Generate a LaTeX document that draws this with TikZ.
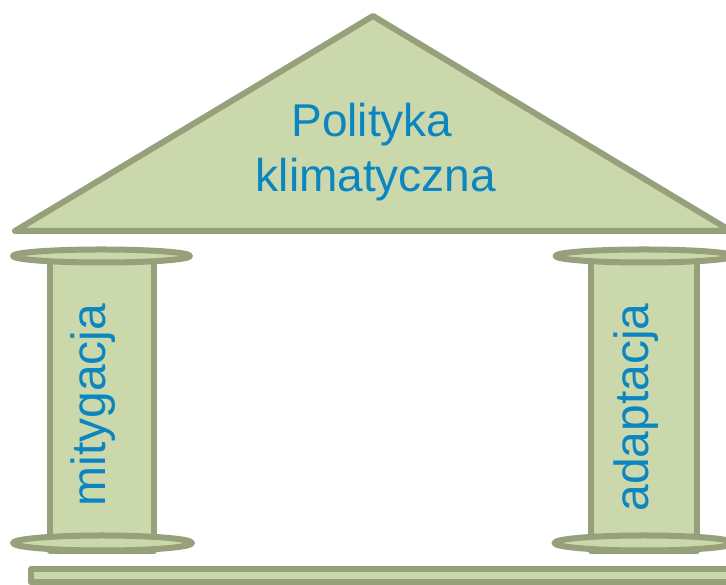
\documentclass[tikz,border=0pt]{standalone}
\usepackage{fontspec}
\setmainfont{Liberation Sans}
\definecolor{pfill}{RGB}{202,216,172}
\definecolor{pline}{RGB}{150,160,122}
\definecolor{ptext}{RGB}{12,134,192}
\begin{document}
\begin{tikzpicture}[x=1pt,y=1pt,
  part/.style={fill=pfill,draw=pline,line width=6pt,line join=round},
  ttl/.style={text=ptext,font=\fontsize{46}{55}\selectfont,inner sep=0pt,anchor=base},
  ptl/.style={text=ptext,font=\fontsize{48}{55}\selectfont,inner sep=0pt,anchor=base,rotate=90}]
\clip (0,0) rectangle (726,585);
% roof
\draw[part] (15,354) -- (373,569) -- (731,354) -- cycle;
\node[ttl] (title1) at (372,448) {Polityka};
\node[ttl] (title2) at (376,393) {klimatyczna};
% left pillar
\draw[part] (50,34) rectangle (154,328);
\draw[part] (101.5,329) ellipse [x radius=88.5, y radius=6.5];
\draw[part] (102.5,42) ellipse [x radius=89.5, y radius=7.5];
\node[ptl] (mit) at (105,180) {mitygacja};
% right pillar
\draw[part] (591,34) rectangle (697,328);
\draw[part] (644,329) ellipse [x radius=88.5, y radius=6.5];
\draw[part] (644,42) ellipse [x radius=89.5, y radius=7.5];
\node[ptl] (ada) at (648,177.5) {adaptacja};
% base
\draw[part] (31,16) rectangle (740,2.5);
\end{tikzpicture}
\end{document}
